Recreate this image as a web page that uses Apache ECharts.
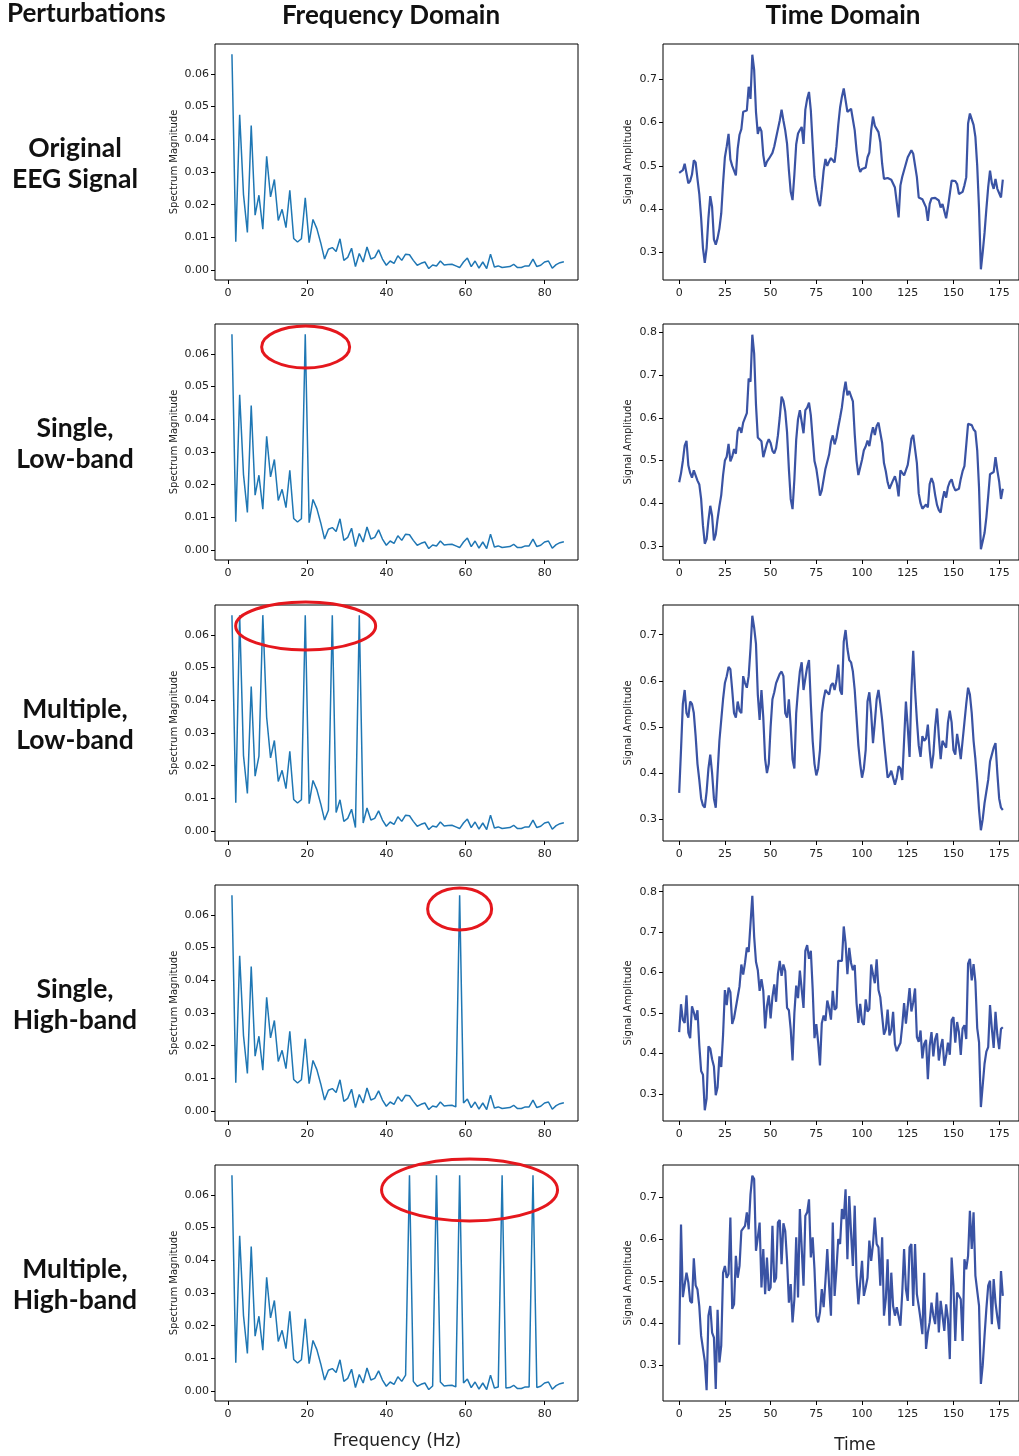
<!DOCTYPE html>
<html><head><meta charset="utf-8">
<script src="https://cdn.jsdelivr.net/npm/echarts@6/dist/echarts.min.js"></script>
<style>html,body{margin:0;padding:0;background:#fff}#c{width:1019px;height:1456px}</style>
</head><body><div id="c"></div>
<script>
// ---------- DATA ----------
const rowLabels = ['Original\nEEG Signal', 'Single,\nLow-band', 'Multiple,\nLow-band', 'Single,\nHigh-band', 'Multiple,\nHigh-band'];
const freqHz = [0.98,1.95,2.93,3.90,4.88,5.85,6.83,7.80,8.78,9.75,10.73,11.70,12.68,13.65,14.63,15.60,16.58,17.55,18.53,19.50,20.48,21.45,22.43,23.40,24.38,25.35,26.33,27.30,28.28,29.25,30.23,31.20,32.18,33.15,34.13,35.10,36.08,37.05,38.03,39.00,39.98,40.95,41.93,42.90,43.88,44.85,45.83,46.80,47.78,48.75,49.73,50.70,51.68,52.65,53.63,54.60,55.58,56.55,57.53,58.50,59.48,60.45,61.43,62.40,63.38,64.35,65.33,66.30,67.28,68.25,69.23,70.20,71.18,72.15,73.13,74.10,75.08,76.05,77.03,78.00,78.98,79.95,80.93,81.90,82.88,83.85,84.83];
const spectrumBase = [0.0660,0.0087,0.0475,0.0231,0.0115,0.0442,0.0168,0.0229,0.0125,0.0348,0.0224,0.0277,0.0152,0.0186,0.0130,0.0244,0.0097,0.0086,0.0096,0.0221,0.0084,0.0155,0.0127,0.0084,0.0034,0.0064,0.0069,0.0057,0.0096,0.0030,0.0039,0.0067,0.0011,0.0051,0.0025,0.0071,0.0034,0.0039,0.0062,0.0034,0.0015,0.0028,0.0021,0.0044,0.0030,0.0049,0.0047,0.0030,0.0015,0.0021,0.0025,0.0005,0.0016,0.0013,0.0028,0.0016,0.0017,0.0018,0.0013,0.0008,0.0025,0.0037,0.0011,0.0028,0.0006,0.0025,0.0005,0.0049,0.0010,0.0013,0.0008,0.0010,0.0011,0.0018,0.0008,0.0008,0.0013,0.0013,0.0034,0.0011,0.0015,0.0025,0.0028,0.0006,0.0017,0.0023,0.0026];
// injected spikes: [bin number k (1-based), magnitude]
const spikesRow1 = [];
const spikesRow2 = [[20, 0.0660]];
const spikesRow3 = [[3, 0.0660],[9, 0.0660],[20, 0.0660],[27, 0.0660],[34, 0.0660]];
const spikesRow4 = [[60, 0.0660]];
const spikesRow5 = [[47, 0.0660],[54, 0.0660],[60, 0.0660],[71, 0.0660],[79, 0.0660]];

const timeRow1 = [0.484,0.487,0.490,0.505,0.508,0.460,0.465,0.480,0.513,0.508,0.470,0.435,0.380,0.310,0.276,0.310,0.380,0.430,0.405,0.330,0.318,0.333,0.355,0.390,0.460,0.520,0.545,0.574,0.515,0.500,0.497,0.478,0.540,0.572,0.585,0.625,0.628,0.628,0.683,0.655,0.757,0.722,0.625,0.574,0.590,0.580,0.525,0.498,0.510,0.516,0.523,0.530,0.545,0.565,0.585,0.605,0.630,0.605,0.582,0.551,0.490,0.440,0.421,0.480,0.550,0.575,0.583,0.590,0.551,0.630,0.655,0.671,0.628,0.550,0.475,0.445,0.420,0.407,0.445,0.489,0.516,0.500,0.510,0.518,0.522,0.508,0.545,0.595,0.635,0.660,0.679,0.679,0.625,0.625,0.632,0.633,0.582,0.536,0.501,0.486,0.493,0.494,0.496,0.520,0.531,0.582,0.614,0.593,0.595,0.578,0.555,0.505,0.470,0.474,0.472,0.470,0.468,0.466,0.450,0.415,0.381,0.455,0.475,0.490,0.505,0.520,0.528,0.536,0.528,0.528,0.474,0.427,0.426,0.423,0.419,0.404,0.373,0.412,0.425,0.429,0.426,0.424,0.420,0.404,0.412,0.408,0.379,0.405,0.435,0.466,0.470,0.465,0.458,0.435,0.435,0.440,0.455,0.474,0.598,0.621,0.618,0.595,0.567,0.500,0.400,0.261,0.300,0.345,0.400,0.451,0.489,0.460,0.447,0.470,0.447,0.443,0.427,0.468];
const timeRow2 = [0.449,0.470,0.499,0.535,0.546,0.489,0.471,0.460,0.477,0.473,0.453,0.444,0.410,0.348,0.305,0.316,0.360,0.394,0.370,0.313,0.327,0.363,0.393,0.419,0.466,0.500,0.509,0.539,0.498,0.509,0.527,0.516,0.569,0.578,0.565,0.589,0.593,0.611,0.692,0.685,0.795,0.751,0.631,0.554,0.554,0.545,0.508,0.507,0.540,0.550,0.541,0.523,0.517,0.529,0.559,0.601,0.650,0.640,0.615,0.566,0.480,0.410,0.386,0.456,0.549,0.597,0.618,0.622,0.564,0.618,0.624,0.636,0.606,0.551,0.499,0.481,0.451,0.418,0.430,0.456,0.481,0.479,0.514,0.544,0.559,0.538,0.553,0.578,0.601,0.625,0.660,0.685,0.653,0.663,0.661,0.639,0.562,0.500,0.466,0.469,0.502,0.524,0.533,0.547,0.534,0.560,0.578,0.560,0.581,0.589,0.586,0.541,0.494,0.475,0.449,0.434,0.437,0.454,0.463,0.447,0.416,0.477,0.473,0.465,0.469,0.490,0.519,0.551,0.560,0.562,0.494,0.423,0.400,0.387,0.391,0.397,0.390,0.445,0.459,0.447,0.419,0.396,0.384,0.378,0.408,0.428,0.413,0.438,0.450,0.456,0.440,0.430,0.434,0.434,0.457,0.475,0.487,0.487,0.586,0.590,0.583,0.573,0.568,0.524,0.436,0.292,0.311,0.330,0.367,0.416,0.468,0.464,0.473,0.508,0.477,0.451,0.410,0.434];
const timeRow3 = [0.357,0.450,0.550,0.580,0.530,0.520,0.555,0.550,0.530,0.480,0.420,0.385,0.345,0.330,0.325,0.360,0.410,0.440,0.400,0.345,0.325,0.400,0.470,0.515,0.560,0.595,0.610,0.630,0.625,0.580,0.530,0.520,0.555,0.535,0.530,0.610,0.595,0.585,0.610,0.670,0.741,0.715,0.680,0.570,0.515,0.580,0.520,0.430,0.400,0.420,0.500,0.560,0.575,0.595,0.605,0.615,0.620,0.610,0.530,0.520,0.560,0.500,0.430,0.410,0.530,0.580,0.620,0.640,0.580,0.580,0.630,0.645,0.550,0.470,0.420,0.395,0.410,0.450,0.530,0.560,0.580,0.575,0.570,0.590,0.595,0.580,0.600,0.635,0.580,0.570,0.685,0.710,0.670,0.645,0.640,0.620,0.580,0.520,0.460,0.420,0.390,0.410,0.450,0.555,0.575,0.530,0.465,0.510,0.560,0.580,0.550,0.515,0.470,0.430,0.390,0.395,0.405,0.390,0.375,0.390,0.415,0.410,0.385,0.470,0.555,0.500,0.435,0.580,0.665,0.580,0.515,0.460,0.435,0.480,0.470,0.475,0.505,0.450,0.410,0.440,0.500,0.540,0.480,0.430,0.470,0.470,0.455,0.510,0.535,0.510,0.450,0.440,0.485,0.460,0.430,0.470,0.510,0.550,0.585,0.570,0.530,0.470,0.430,0.380,0.320,0.276,0.300,0.335,0.360,0.385,0.425,0.440,0.455,0.465,0.400,0.345,0.325,0.320];
const timeRow4 = [0.453,0.522,0.484,0.476,0.544,0.452,0.438,0.517,0.502,0.483,0.507,0.421,0.357,0.348,0.260,0.289,0.418,0.412,0.386,0.368,0.297,0.317,0.393,0.367,0.446,0.557,0.520,0.563,0.552,0.473,0.488,0.514,0.511,0.566,0.620,0.595,0.624,0.662,0.651,0.654,0.790,0.689,0.627,0.606,0.555,0.584,0.555,0.462,0.517,0.544,0.487,0.540,0.571,0.528,0.597,0.629,0.592,0.620,0.604,0.513,0.507,0.460,0.383,0.500,0.568,0.537,0.605,0.605,0.513,0.654,0.668,0.634,0.654,0.560,0.438,0.473,0.428,0.371,0.475,0.494,0.481,0.531,0.512,0.484,0.555,0.508,0.513,0.629,0.632,0.629,0.714,0.673,0.596,0.661,0.624,0.606,0.619,0.525,0.476,0.523,0.479,0.471,0.534,0.504,0.510,0.620,0.596,0.574,0.633,0.557,0.539,0.543,0.447,0.460,0.509,0.445,0.457,0.503,0.423,0.406,0.417,0.426,0.469,0.525,0.474,0.517,0.562,0.504,0.527,0.561,0.441,0.429,0.457,0.388,0.424,0.434,0.337,0.419,0.453,0.393,0.436,0.450,0.383,0.416,0.436,0.370,0.394,0.427,0.397,0.483,0.490,0.427,0.478,0.453,0.397,0.462,0.470,0.436,0.622,0.634,0.581,0.621,0.577,0.463,0.428,0.268,0.264,0.375,0.405,0.416,0.520,0.462,0.414,0.503,0.446,0.411,0.461,0.465];
const timeRow5 = [0.349,0.634,0.462,0.462,0.520,0.497,0.453,0.448,0.554,0.490,0.480,0.440,0.370,0.340,0.310,0.241,0.418,0.441,0.378,0.366,0.244,0.432,0.307,0.347,0.520,0.536,0.508,0.517,0.651,0.434,0.445,0.560,0.508,0.536,0.619,0.619,0.631,0.663,0.623,0.706,0.750,0.742,0.572,0.604,0.639,0.485,0.576,0.469,0.556,0.477,0.485,0.631,0.497,0.508,0.639,0.645,0.540,0.637,0.619,0.548,0.449,0.493,0.402,0.457,0.604,0.461,0.671,0.580,0.489,0.655,0.663,0.694,0.556,0.604,0.528,0.418,0.402,0.426,0.481,0.438,0.501,0.576,0.489,0.418,0.639,0.465,0.528,0.600,0.588,0.671,0.647,0.718,0.552,0.702,0.615,0.536,0.679,0.513,0.445,0.497,0.548,0.465,0.485,0.508,0.596,0.548,0.588,0.651,0.588,0.580,0.489,0.604,0.418,0.457,0.552,0.394,0.520,0.441,0.418,0.438,0.434,0.394,0.473,0.576,0.481,0.453,0.580,0.588,0.441,0.588,0.469,0.441,0.410,0.374,0.520,0.339,0.378,0.402,0.449,0.418,0.398,0.473,0.378,0.453,0.418,0.382,0.445,0.410,0.315,0.556,0.489,0.358,0.473,0.465,0.457,0.358,0.552,0.528,0.560,0.667,0.576,0.663,0.513,0.477,0.441,0.256,0.300,0.370,0.434,0.489,0.501,0.398,0.505,0.449,0.414,0.386,0.524,0.465];

const freqTicks = [0, 20, 40, 60, 80];
const magTicks = [0, 0.01, 0.02, 0.03, 0.04, 0.05, 0.06];
const timeTicks = [0, 25, 50, 75, 100, 125, 150, 175];
const ampTicksList = [[0.3,0.4,0.5,0.6,0.7],[0.3,0.4,0.5,0.6,0.7,0.8],[0.3,0.4,0.5,0.6,0.7],[0.3,0.4,0.5,0.6,0.7,0.8],[0.3,0.4,0.5,0.6,0.7]];

// ---------- BUILD ----------
const spikesAll = [spikesRow1, spikesRow2, spikesRow3, spikesRow4, spikesRow5];
const timeAll = [timeRow1, timeRow2, timeRow3, timeRow4, timeRow5];
function specRow(sp){ const a = spectrumBase.slice(); sp.forEach(s => { a[s[0]-1] = s[1]; }); return freqHz.map((f,i)=>[f, a[i]]); }

const rowTops = [44, 324, 605, 885, 1165];
const rowH = 236;
const grids = [], xAxes = [], yAxes = [], series = [];
const tickStyle = {color:'#222', fontSize: 11, fontFamily: 'DejaVu Sans'};
const tickLine = {show:true, inside:false, length:4, lineStyle:{color:'#000', width:1}};
rowTops.forEach((top, r) => {
  grids.push({left: 215, top: top, width: 363, height: rowH, show: true, borderColor: '#000', borderWidth: 1, backgroundColor: 'transparent'});
  grids.push({left: 663, top: top, width: 363, height: rowH, show: true, borderColor: '#000', borderWidth: 1, backgroundColor: 'transparent'});
  const gi = 2*r;
  xAxes.push({type:'value', gridIndex: gi, position:'bottom', min: -3.3, max: 88.4, axisLine:{show:false, onZero:false}, splitLine:{show:false},
    axisTick:{...tickLine, customValues: freqTicks},
    axisLabel:{...tickStyle, margin: 8, customValues: freqTicks, formatter: v => String(v)}});
  yAxes.push({type:'value', gridIndex: gi, position:'left', min: -0.003, max: 0.0691, axisLine:{show:false, onZero:false}, splitLine:{show:false},
    name: 'Spectrum Magnitude', nameLocation: 'middle', nameGap: 36, nameTextStyle:{color:'#222', fontSize: 10, fontFamily:'DejaVu Sans'},
    axisTick:{...tickLine, customValues: magTicks},
    axisLabel:{...tickStyle, margin: 6, customValues: magTicks, formatter: v => v.toFixed(2)}});
  const td = timeAll[r];
  const mn = Math.min(...td), mx = Math.max(...td), sp = mx - mn;
  xAxes.push({type:'value', gridIndex: gi+1, position:'bottom', min: -8.85, max: 185.85, axisLine:{show:false, onZero:false}, splitLine:{show:false},
    axisTick:{...tickLine, customValues: timeTicks},
    axisLabel:{...tickStyle, margin: 8, customValues: timeTicks, formatter: v => String(v)}});
  yAxes.push({type:'value', gridIndex: gi+1, position:'left', min: mn - 0.05*sp, max: mx + 0.05*sp, axisLine:{show:false, onZero:false}, splitLine:{show:false},
    name: 'Signal Amplitude', nameLocation: 'middle', nameGap: 30, nameTextStyle:{color:'#222', fontSize: 10, fontFamily:'DejaVu Sans'},
    axisTick:{...tickLine, customValues: ampTicksList[r]},
    axisLabel:{...tickStyle, margin: 6, customValues: ampTicksList[r], formatter: v => v.toFixed(1)}});
  series.push({type:'line', xAxisIndex: gi, yAxisIndex: gi, data: specRow(spikesAll[r]), showSymbol:false, symbol:'none',
    lineStyle:{color:'#1f77b4', width: 1.5}, animation:false});
  series.push({type:'line', xAxisIndex: gi+1, yAxisIndex: gi+1, data: td.map((v,i)=>[i, v]), showSymbol:false, symbol:'none',
    lineStyle:{color:'#3a53a4', width: 2.2}, animation:false});
});

const headFont = 'Lato, "Open Sans", sans-serif';
const graphics = [
  {type:'text', left: 7, top: 1, style:{text:'Perturbations', font:'bold 26px ' + headFont, fill:'#111'}},
  {type:'text', x: 391, y: 16, style:{text:'Frequency Domain', font:'bold 26px ' + headFont, fill:'#111', align:'center', verticalAlign:'middle'}},
  {type:'text', x: 843, y: 16, style:{text:'Time Domain', font:'bold 26px ' + headFont, fill:'#111', align:'center', verticalAlign:'middle'}},
  {type:'text', x: 397, y: 1442, style:{text:'Frequency (Hz)', font:'17px "DejaVu Sans"', fill:'#222', align:'center', verticalAlign:'middle'}},
  {type:'text', x: 855, y: 1446, style:{text:'Time', font:'17px "DejaVu Sans"', fill:'#222', align:'center', verticalAlign:'middle'}}
];
rowTops.forEach((top, r) => {
  graphics.push({type:'text', x: 75, y: top + 120, style:{text: rowLabels[r], font:'bold 26.5px ' + headFont, lineHeight: 31, fill:'#111', align:'center', verticalAlign:'middle'}});
});

const chart = echarts.init(document.getElementById('c'), null, {renderer:'canvas'});
chart.setOption({animation:false, backgroundColor:'#fff', grid: grids, xAxis: xAxes, yAxis: yAxes, series: series, graphic: graphics});

// red ellipses marking the injected peaks: [row, centre Hz, centre magnitude, rx px, ry px]
const marks = [[1, 19.6, 0.0621, 44, 21],[2, 19.6, 0.0627, 70, 24],[3, 58.5, 0.0618, 32, 21],[4, 61.0, 0.0615, 88, 31]];
const ell = marks.map(m => {
  const p = chart.convertToPixel({gridIndex: 2*m[0]}, [m[1], m[2]]);
  return {type:'ellipse', shape:{cx:p[0], cy:p[1], rx:m[3], ry:m[4]}, style:{fill:'none', stroke:'#e5171d', lineWidth:3}, z: 100};
});
chart.setOption({graphic: graphics.concat(ell)});
</script></body></html>
